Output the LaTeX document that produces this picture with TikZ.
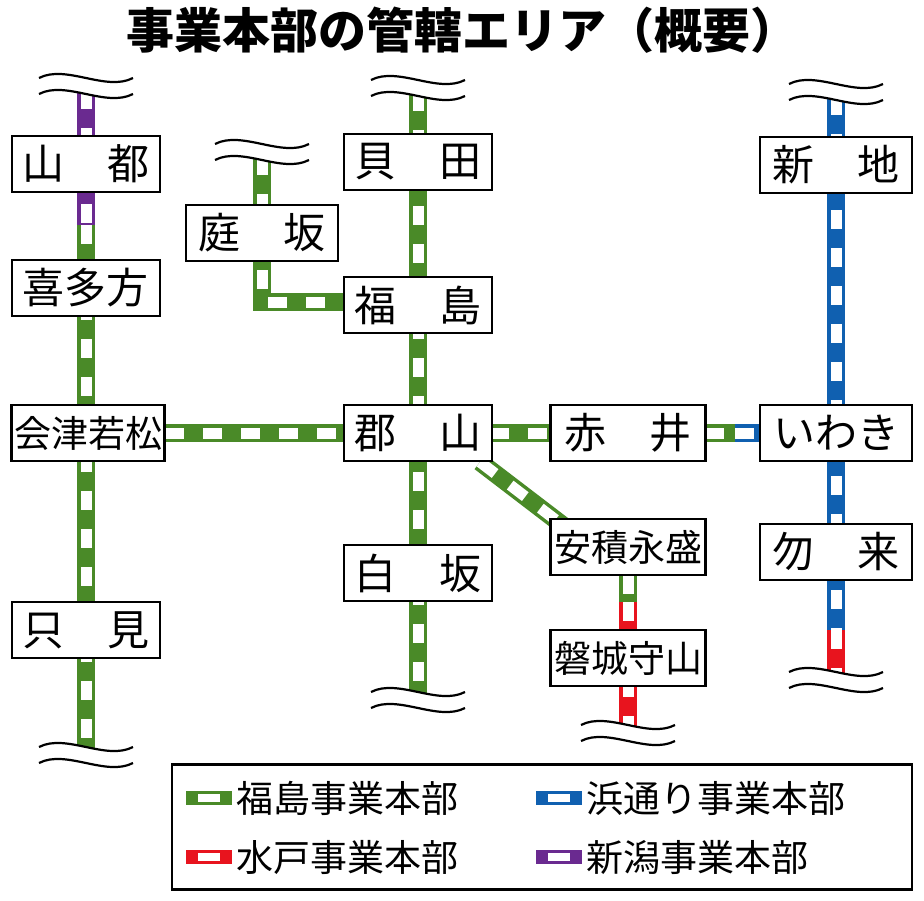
\documentclass[tikz,border=0pt]{standalone}
\usepackage{fontspec}
\setmainfont{Noto Sans CJK JP}
\definecolor{gr}{HTML}{4A8A28}
\definecolor{bl}{HTML}{1060B0}
\definecolor{rd}{HTML}{E8141E}
\definecolor{pu}{HTML}{6A2A90}
\newcommand\trk[2]{\draw[line width=18pt,#1] #2; \draw[line width=11pt,white,dash pattern=on 19pt off 19pt] #2;}
\newcommand\brk[1]{\begin{scope}[shift={(#1)}]
\fill[white] (-47,-8) .. controls (-20,-22) and (20,6) .. (47,-8) -- (47,8) .. controls (20,22) and (-20,-6) .. (-47,8) -- cycle;
\draw[line width=2.2pt] (-47,-8) .. controls (-20,-22) and (20,6) .. (47,-8);
\draw[line width=2.2pt] (-47,8) .. controls (-20,-6) and (20,22) .. (47,8);
\end{scope}}
\tikzset{st/.style={draw,line width=2.2pt,fill=white,minimum width=148pt,minimum height=56pt,font=\fontsize{42pt}{44pt}\selectfont,inner sep=0pt},
 st4/.style={st,font=\fontsize{37pt}{40pt}\selectfont}}
\newcommand\two[2]{\makebox[128pt][s]{#1\hfill#2}}
\begin{document}
\begin{tikzpicture}[x=1pt,y=-1pt]
\useasboundingbox (0,0) rectangle (924,900);
\node[font=\fontsize{48pt}{50pt}\selectfont\bfseries] (title) at (462,30) {事業本部の管轄エリア（概要）};
\coordinate (t1) at (86,86); \coordinate (t1b) at (86,755);
\coordinate (t2) at (262,152); \coordinate (t2c) at (262,302);
\coordinate (t3) at (418,88); \coordinate (t3b) at (418,700);
\coordinate (t4) at (836,92); \coordinate (t4b) at (836,680);
\coordinate (t5b) at (628,733);
% tracks
\trk{pu}{(86,90) -- (86,225)}
\trk{gr}{(86,225) -- (86,750)}
\trk{gr}{(262,156) -- (262,302) -- (345,302)}
\trk{gr}{(418,92) -- (418,695)}
\trk{gr}{(165,433) -- (345,433)}
\trk{gr}{(490,433) -- (552,433)}
\trk{gr}{(705,433) -- (735,433)}
\trk{bl}{(735,433) -- (762,433)}
\trk{gr}{(480,462) -- (565,527)}
\trk{gr}{(628,575) -- (628,602)}
\trk{rd}{(628,602) -- (628,728)}
\trk{bl}{(836,96) -- (836,630)}
\trk{rd}{(836,630) -- (836,676)}
\brk{t1} \brk{t1b} \brk{t2} \brk{t3} \brk{t3b} \brk{t4} \brk{t4b} \brk{t5b}
% stations
\node[st] (yamato) at (86,164) {\two{山}{都}};
\node[st] (kitakata) at (86,288) {喜多方};
\node[st4,minimum width=153pt] (aizu) at (88,433) {会津若松};
\node[st] (tadami) at (86,630) {\two{只}{見}};
\node[st,minimum width=152pt] (niwasaka) at (262,233) {\two{庭}{坂}};
\node[st] (kaida) at (418,162) {\two{貝}{田}};
\node[st] (fukushima) at (418,305) {\two{福}{島}};
\node[st] (koriyama) at (418,433) {\two{郡}{山}};
\node[st] (shirasaka) at (418,573) {\two{白}{坂}};
\node[st,minimum width=155pt] (akai) at (628,433) {\two{赤}{井}};
\node[st4,minimum width=155pt] (asaka) at (628,547) {安積永盛};
\node[st4,minimum width=155pt] (moriyama) at (628,658) {磐城守山};
\node[st,minimum width=152pt] (shinchi) at (836,165) {\two{新}{地}};
\node[st,minimum width=152pt] (iwaki) at (836,433) {いわき};
\node[st,minimum width=152pt] (nakoso) at (836,552) {\two{勿}{来}};
% legend
\node[draw,line width=2.2pt,minimum width=740pt,minimum height=125pt] (leg) at (542,827) {};
\begin{scope}[font=\fontsize{37pt}{39pt}\selectfont]
\foreach \c/\x/\y/\t/\n in {gr/186/798/福島事業本部/l1, bl/536/798/浜通り事業本部/l2, rd/186/857/水戸事業本部/l3, pu/536/857/新潟事業本部/l4}{
 \draw[line width=14pt,\c] (\x,\y) -- ++(46,0);
 \draw[line width=8pt,white] (\x+12,\y) -- ++(22,0);
 \node[anchor=west,inner sep=0pt] (\n) at (\x+50,\y) {\t};
}
\end{scope}
\end{tikzpicture}
\end{document}
